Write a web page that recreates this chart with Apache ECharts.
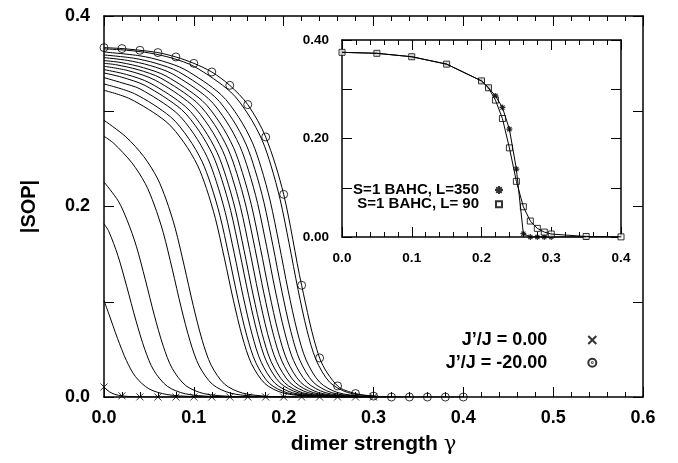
<!DOCTYPE html>
<html>
<head>
<meta charset="utf-8">
<script src="https://cdn.jsdelivr.net/npm/echarts@6/dist/echarts.min.js"></script>
<style>
  html, body { margin: 0; padding: 0; background: #fff; }
  #chart { width: 678px; height: 463px; }
</style>
</head>
<body>
<div id="chart"></div>
<script>
// ---- main panel: |SOP| against dimer strength γ, one curve per J'/J ([γ, |SOP|] pairs) ----
const curveJ0 = [[0,0.0105],[0.006,0.0055],[0.012,0.0028],[0.02,0.0012],[0.03,0.0004],[0.04,0.0001],[0.06,0],[0.3,0]];
const curveA = [[0,0.101],[0.005,0.0883],[0.015,0.0616],[0.025,0.0382],[0.035,0.0214],[0.05,0.0086],[0.07,0.0026],[0.1,0.0004],[0.13,0]];
const curveB = [[0,0.182],[0.0054,0.1737],[0.0154,0.1487],[0.0254,0.1157],[0.0354,0.0807],[0.0454,0.05],[0.0554,0.028],[0.0704,0.0113],[0.0904,0.0034],[0.1204,0.0005],[0.1504,0]];
const curveC = [[0,0.2257],[0.016,0.2056],[0.026,0.185],[0.036,0.1583],[0.046,0.1232],[0.056,0.0859],[0.066,0.0533],[0.076,0.0299],[0.091,0.012],[0.111,0.0036],[0.141,0.0006],[0.171,0]];
const curveD = [[0,0.2737],[0.011,0.2662],[0.031,0.2459],[0.046,0.224],[0.056,0.2016],[0.066,0.1725],[0.076,0.1342],[0.086,0.0936],[0.096,0.0581],[0.106,0.0325],[0.121,0.0131],[0.141,0.004],[0.171,0.0006],[0.201,0]];
const curveE = [[0,0.2905],[0.0243,0.2732],[0.0443,0.2524],[0.0593,0.2299],[0.0693,0.2069],[0.0793,0.1771],[0.0893,0.1377],[0.0993,0.0961],[0.1093,0.0596],[0.1193,0.0334],[0.1343,0.0134],[0.1543,0.0041],[0.1843,0.0006],[0.2143,0]];
const curveF = [[0,0.322],[0.029,0.313],[0.069,0.2892],[0.089,0.2672],[0.104,0.2434],[0.114,0.219],[0.124,0.1874],[0.134,0.1458],[0.144,0.1017],[0.154,0.0631],[0.164,0.0353],[0.179,0.0142],[0.199,0.0043],[0.229,0.0007],[0.259,0]];
const curveG = [[0,0.3286],[0.034,0.3184],[0.074,0.2942],[0.094,0.2718],[0.109,0.2476],[0.119,0.2228],[0.129,0.1907],[0.139,0.1483],[0.149,0.1035],[0.159,0.0642],[0.169,0.036],[0.184,0.0144],[0.204,0.0044],[0.234,0.0007],[0.264,0]];
const curveH = [[0,0.3353],[0.02,0.3298],[0.04,0.3235],[0.08,0.2989],[0.1,0.2762],[0.115,0.2516],[0.125,0.2263],[0.135,0.1937],[0.145,0.1507],[0.155,0.1052],[0.165,0.0652],[0.175,0.0365],[0.19,0.0147],[0.21,0.0044],[0.24,0.0007],[0.27,0]];
const curveI = [[0,0.3402],[0.02,0.3357],[0.046,0.3269],[0.086,0.302],[0.106,0.2791],[0.121,0.2543],[0.131,0.2287],[0.141,0.1958],[0.151,0.1523],[0.161,0.1063],[0.171,0.0659],[0.181,0.0369],[0.196,0.0148],[0.216,0.0045],[0.246,0.0007],[0.276,0]];
const curveK = [[0,0.3437],[0.025,0.3386],[0.051,0.3297],[0.091,0.3047],[0.111,0.2815],[0.126,0.2565],[0.136,0.2307],[0.146,0.1975],[0.156,0.1536],[0.166,0.1072],[0.176,0.0665],[0.186,0.0372],[0.201,0.015],[0.221,0.0045],[0.251,0.0007],[0.281,0]];
const curveL = [[0,0.3472],[0.027,0.3426],[0.057,0.3326],[0.097,0.3073],[0.117,0.284],[0.132,0.2587],[0.142,0.2327],[0.152,0.1992],[0.162,0.155],[0.172,0.1081],[0.182,0.067],[0.192,0.0376],[0.207,0.0151],[0.227,0.0046],[0.257,0.0007],[0.287,0]];
const curveM = [[0,0.3503],[0.013,0.3489],[0.038,0.3436],[0.063,0.3349],[0.103,0.3095],[0.123,0.286],[0.138,0.2605],[0.148,0.2344],[0.158,0.2006],[0.168,0.1561],[0.178,0.1089],[0.188,0.0675],[0.198,0.0378],[0.213,0.0152],[0.233,0.0046],[0.263,0.0007],[0.293,0]];
const curveN = [[0,0.3532],[0.019,0.3511],[0.044,0.3457],[0.069,0.337],[0.109,0.3114],[0.129,0.2878],[0.144,0.2622],[0.154,0.2358],[0.164,0.2019],[0.174,0.157],[0.184,0.1096],[0.194,0.0679],[0.204,0.0381],[0.219,0.0153],[0.239,0.0046],[0.269,0.0007],[0.299,0]];
const curveP = [[0,0.3563],[0.026,0.3534],[0.051,0.3481],[0.076,0.3393],[0.116,0.3135],[0.136,0.2897],[0.151,0.2639],[0.161,0.2374],[0.171,0.2032],[0.181,0.1581],[0.191,0.1103],[0.201,0.0684],[0.211,0.0383],[0.226,0.0154],[0.246,0.0047],[0.276,0.0007],[0.306,0]];
const curveQ = [[0,0.3591],[0.033,0.3557],[0.058,0.3503],[0.083,0.3415],[0.123,0.3155],[0.143,0.2916],[0.158,0.2656],[0.168,0.2389],[0.178,0.2045],[0.188,0.1591],[0.198,0.111],[0.208,0.0688],[0.218,0.0386],[0.233,0.0155],[0.253,0.0047],[0.283,0.0007],[0.313,0]];
const curveR = [[0,0.3622],[0.04,0.3582],[0.065,0.3527],[0.09,0.3438],[0.13,0.3177],[0.15,0.2936],[0.165,0.2675],[0.175,0.2406],[0.185,0.2059],[0.195,0.1602],[0.205,0.1118],[0.215,0.0693],[0.225,0.0388],[0.24,0.0156],[0.26,0.0047],[0.29,0.0007],[0.32,0]];
const curveS = [[0,0.3655],[0.025,0.3641],[0.051,0.3611],[0.076,0.3557],[0.101,0.3467],[0.141,0.3203],[0.161,0.296],[0.176,0.2697],[0.186,0.2426],[0.196,0.2077],[0.206,0.1615],[0.216,0.1127],[0.226,0.0699],[0.236,0.0392],[0.251,0.0157],[0.271,0.0048],[0.301,0.0007],[0.331,0]];

// marked curves: J'/J = 0.00 (crosses) and J'/J = -20.00 (circles)
const crossGamma = [0,0.02,0.04,0.06,0.08,0.10,0.12,0.14,0.16,0.18,0.20,0.22,0.24,0.26,0.28,0.30];
const crossSOP   = [0.0105,0.0012,0.0001,0,0,0,0,0,0,0,0,0,0,0,0,0];
const circleGamma = [0,0.02,0.04,0.06,0.08,0.10,0.12,0.14,0.16,0.18,0.20,0.22,0.24,0.26,0.28,0.30,0.32,0.34,0.36,0.38,0.40];
const circleSOP   = [0.3668,0.3658,0.364,0.3616,0.357,0.3503,0.3412,0.3272,0.307,0.273,0.2128,0.1173,0.041,0.0116,0.0036,0.001,0,0,0,0,0];

// ---- inset: S=1 BAHC chains ----
const gammaL350 = [0,0.05,0.10,0.15,0.20,0.21,0.22,0.23,0.24,0.25,0.26,0.27,0.28,0.29,0.30,0.35];
const sopL350   = [0.375,0.373,0.366,0.351,0.317,0.303,0.2865,0.263,0.219,0.138,0.0067,0,0,0,0,0];
const gammaL90  = [0,0.05,0.10,0.15,0.20,0.21,0.22,0.23,0.24,0.25,0.26,0.27,0.28,0.29,0.30,0.35,0.40];
const sopL90    = [0.375,0.373,0.366,0.351,0.317,0.303,0.278,0.2405,0.181,0.113,0.0614,0.0324,0.0175,0.010,0.006,0.001,0.0003];

// tick labels
const mainXTickLabels  = ['0.0','0.1','0.2','0.3','0.4','0.5','0.6'];
const mainYTickLabels  = ['0.0','','0.2','','0.4'];
const insetXTickLabels = ['0.0','0.1','0.2','0.3','0.4'];
const insetYTickLabels = ['0.00','','0.20','','0.40'];

const legendCross  = 'J\u2019/J = 0.00';
const legendCircle = 'J\u2019/J = -20.00';
const legendL350 = 'S=1 BAHC, L=350';
const legendL90  = 'S=1 BAHC, L= 90';

// ---------------------------------------------------------------------
const FONT = 'Liberation Sans, Arial, Helvetica, sans-serif';
const BLACK = '#000';
const crossPath = 'path://M0,0L10,10M10,0L0,10';
const dotCirclePath = 'path://M10,5A5,5,0,1,1,0,5A5,5,0,1,1,10,5ZM5.5,5A0.5,0.5,0,1,1,4.5,5A0.5,0.5,0,1,1,5.5,5Z';
const starPath = 'path://M0,5L10,5M5,0L5,10M1.5,1.5L8.5,8.5M8.5,1.5L1.5,8.5';
const zip = (xs, ys) => xs.map((x, i) => [x, ys[i]]);

function makeAxis(opts) {
  const base = {
    type: 'value',
    gridIndex: opts.grid,
    position: opts.position,
    min: 0, max: opts.max, interval: 0.1,
    zlevel: opts.zlevel || 0,
    axisLine: { show: true, onZero: false, lineStyle: { color: BLACK, width: 1.5 } },
    axisTick: { show: true, inside: true, length: opts.tickLen, lineStyle: { color: BLACK, width: 1 } },
    minorTick: { show: !!opts.minor, splitNumber: 5, length: opts.minorLen || 4, lineStyle: { color: BLACK, width: 1 } },
    splitLine: { show: false },
    minorSplitLine: { show: false },
    axisLabel: opts.labels ? {
      show: true,
      fontFamily: FONT, fontWeight: 'bold', fontSize: opts.fontSize, color: BLACK,
      margin: opts.margin,
      formatter: (v, i) => opts.labels[i] || ''
    } : { show: false }
  };
  return Object.assign(base, opts.extra || {});
}

const lineCurves = [curveJ0, curveA, curveB, curveC, curveD, curveE, curveF, curveG, curveH,
  curveI, curveK, curveL, curveM, curveN, curveP, curveQ, curveR, curveS, zip(circleGamma, circleSOP)];

const series = lineCurves.map(c => ({
  type: 'line', xAxisIndex: 0, yAxisIndex: 0, data: c,
  symbol: 'none', smooth: 0.3,
  lineStyle: { color: BLACK, width: 1 }, silent: true
}));

series.push({
  name: legendCross, type: 'scatter', xAxisIndex: 0, yAxisIndex: 0,
  data: zip(crossGamma, crossSOP), symbol: crossPath, symbolSize: 7,
  itemStyle: { color: 'transparent', borderColor: BLACK, borderWidth: 1 }, silent: true
});
series.push({
  name: legendCircle, type: 'scatter', xAxisIndex: 0, yAxisIndex: 0,
  data: zip(circleGamma, circleSOP), symbol: 'circle', symbolSize: 8,
  itemStyle: { color: 'transparent', borderColor: BLACK, borderWidth: 1 }, silent: true
});

// inset curves
series.push({
  type: 'line', xAxisIndex: 2, yAxisIndex: 2, zlevel: 1, data: zip(gammaL350, sopL350),
  symbol: 'none', lineStyle: { color: BLACK, width: 1 }, silent: true
});
series.push({
  type: 'line', xAxisIndex: 2, yAxisIndex: 2, zlevel: 1, data: zip(gammaL90, sopL90),
  symbol: 'none', lineStyle: { color: BLACK, width: 1 }, silent: true
});
series.push({
  name: legendL350, type: 'scatter', xAxisIndex: 2, yAxisIndex: 2, zlevel: 1,
  data: zip(gammaL350, sopL350), symbol: starPath, symbolSize: 6,
  itemStyle: { color: 'transparent', borderColor: BLACK, borderWidth: 1.2 }, silent: true
});
series.push({
  name: legendL90, type: 'scatter', xAxisIndex: 2, yAxisIndex: 2, zlevel: 1,
  data: zip(gammaL90, sopL90), symbol: 'rect', symbolSize: 6,
  itemStyle: { color: '#fff', borderColor: BLACK, borderWidth: 1 }, silent: true
});

function legendFor(name, icon, right, top, fontSize, lineHeight, gap, iconSize, zlevel) {
  return {
    data: [{ name, icon }], orient: 'vertical', align: 'right', selectedMode: false,
    right, top, padding: 0, itemWidth: iconSize, itemHeight: iconSize, zlevel,
    textStyle: { fontFamily: FONT, fontWeight: 'bold', fontSize, color: BLACK, lineHeight, padding: [0, gap, 0, 0] }
  };
}

const option = {
  animation: false,
  backgroundColor: '#fff',
  grid: [
    { left: 104, right: 35, top: 16, bottom: 66, show: false },
    { left: 342, right: 57, top: 40, bottom: 226, show: true, backgroundColor: '#fff', borderWidth: 0, zlevel: 1 }
  ],
  xAxis: [
    makeAxis({ grid: 0, position: 'bottom', max: 0.6, tickLen: 10, minor: true, minorLen: 5, labels: mainXTickLabels, fontSize: 18, margin: 12,
      extra: { name: '{b|dimer strength }{g|γ}', nameLocation: 'middle', nameGap: 37,
        nameTextStyle: { rich: { b: { fontFamily: FONT, fontWeight: 'bold', fontSize: 21, color: BLACK },
                                 g: { fontFamily: 'DejaVu Serif, serif', fontSize: 21, color: BLACK } } } } }),
    makeAxis({ grid: 0, position: 'top', max: 0.6, tickLen: 10, minor: true, minorLen: 5 }),
    makeAxis({ grid: 1, position: 'bottom', max: 0.4, tickLen: 10, minor: true, minorLen: 5, labels: insetXTickLabels, fontSize: 13.5, margin: 14, zlevel: 1 }),
    makeAxis({ grid: 1, position: 'top', max: 0.4, tickLen: 10, minor: true, minorLen: 5, zlevel: 1 })
  ],
  yAxis: [
    makeAxis({ grid: 0, position: 'left', max: 0.4, tickLen: 10, labels: mainYTickLabels, fontSize: 18, margin: 14,
      extra: { name: '|SOP|', nameLocation: 'middle', nameGap: 65,
        nameTextStyle: { fontFamily: FONT, fontWeight: 'bold', fontSize: 20, color: BLACK } } }),
    makeAxis({ grid: 0, position: 'right', max: 0.4, tickLen: 10 }),
    makeAxis({ grid: 1, position: 'left', max: 0.4, tickLen: 10, labels: insetYTickLabels, fontSize: 13.5, margin: 13, zlevel: 1 }),
    makeAxis({ grid: 1, position: 'right', max: 0.4, tickLen: 10, zlevel: 1 })
  ],
  legend: [
    legendFor(legendCross, crossPath, 80.7, 330, 18, 20, 36, 8, 0),
    legendFor(legendCircle, dotCirclePath, 80.7, 352.7, 18, 20, 36, 8, 0),
    legendFor(legendL350, starPath, 174, 182, 15, 16, 11, 8, 1),
    legendFor(legendL90, 'rect', 175, 196.3, 15, 16, 12, 6, 1)
  ],
  series
};

const chart = echarts.init(document.getElementById('chart'), null, { renderer: 'canvas' });
chart.setOption(option);
</script>
</body>
</html>
